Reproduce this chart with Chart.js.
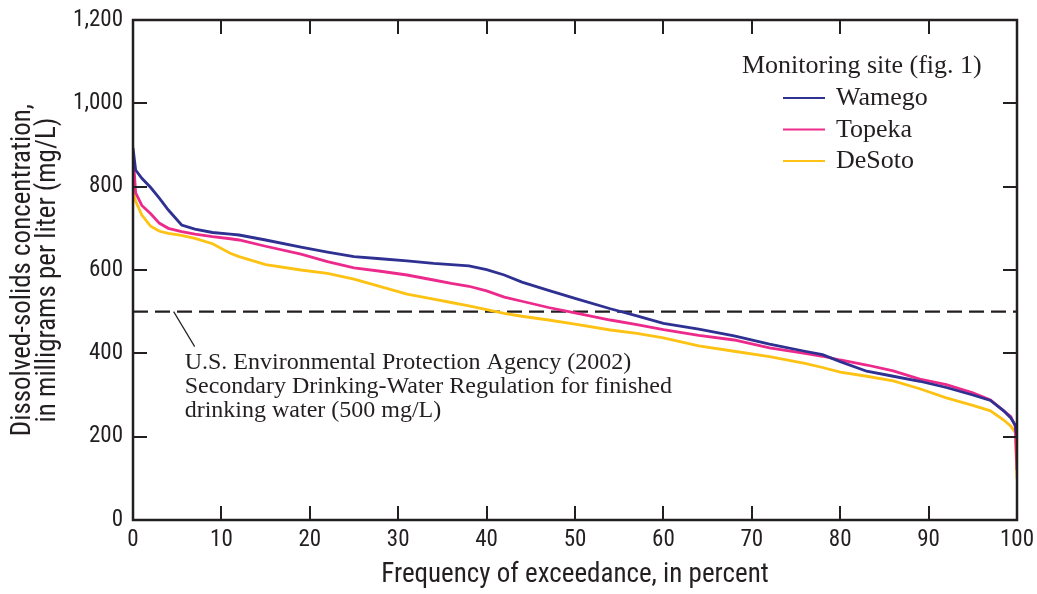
<!DOCTYPE html>
<html>
<head>
<meta charset="utf-8">
<title>Dissolved-solids duration curves</title>
<script src="https://cdn.jsdelivr.net/npm/chart.js@4.4.1/dist/chart.umd.min.js"></script>
<style>
	html, body { margin: 0; padding: 0; background: #fff; }
</style>
</head>
<body>
<canvas id="chart" width="1037" height="594"></canvas>
<script>
// Frequency of exceedance, in percent (shared by all three sites)
const exceedance = [0, 0.3, 1, 2, 3, 4, 5.5, 7, 9, 11, 12, 15, 19, 22, 25, 28, 31, 34, 36, 38, 40, 42, 44, 47, 50, 54, 57, 60, 64, 68, 72, 76, 78, 80, 83, 86, 89, 92, 95, 97, 98.5, 99.3, 99.8, 100];

// Dissolved-solids concentration, mg/L
const wamego = [893, 840, 820, 798, 772, 744, 708, 698, 690, 686, 684, 672, 655, 643, 632, 627, 622, 616, 613, 610, 601, 588, 571, 551, 532, 507, 490, 472, 458, 442, 422, 405, 397, 380, 357, 345, 333, 318, 300, 287, 262, 245, 228, 200];
const topeka = [880, 785, 755, 735, 712, 700, 692, 686, 680, 675, 672, 657, 638, 620, 605, 597, 588, 576, 568, 561, 550, 535, 525, 510, 497, 480, 469, 457, 443, 432, 413, 400, 393, 384, 372, 358, 338, 325, 305, 288, 262, 248, 225, 120];
const desoto = [790, 765, 732, 705, 693, 688, 683, 676, 663, 640, 632, 613, 600, 592, 578, 560, 542, 530, 522, 514, 505, 496, 489, 480, 470, 456, 448, 437, 418, 405, 392, 376, 366, 355, 345, 334, 315, 293, 275, 262, 240, 225, 210, 100];

// EPA secondary drinking-water regulation (500 mg/L)
const limitX = [0, 100];
const limitY = [500, 500];

const siteNames = ['Wamego', 'Topeka', 'DeSoto'];
const siteColors = ['#2e3192', '#ec2a8c', '#fdc214'];
const legendTitle = 'Monitoring site (fig. 1)';
const noteLines = [
	'U.S. Environmental Protection Agency (2002)',
	'Secondary Drinking-Water Regulation for finished',
	'drinking water (500 mg/L)',
];

const INK = '#231f20';
const AXIS_FONT = "'Liberation Sans Narrow', 'Arial Narrow', 'Roboto Condensed', sans-serif";
const SERIF_FONT = "'Liberation Serif', 'Times New Roman', serif";

function toPoints(xs, ys) {
	return xs.map((x, i) => ({ x: x, y: ys[i] }));
}

// Box, inward tick marks, legend and note
const decorPlugin = {
	id: 'decor',
	afterDraw(chart) {
		const { ctx, chartArea: area, scales } = chart;
		const xs = scales.x;
		const ys = scales.y;
		const tick = 14;

		ctx.save();
		ctx.strokeStyle = INK;
		ctx.lineWidth = 2.5;
		ctx.strokeRect(area.left, area.top, area.right - area.left, area.bottom - area.top);

		ctx.beginPath();
		xs.ticks.forEach((t) => {
			if (t.value <= xs.min || t.value >= xs.max) return;
			const px = Math.round(xs.getPixelForValue(t.value));
			ctx.moveTo(px, area.bottom);
			ctx.lineTo(px, area.bottom - tick);
			ctx.moveTo(px, area.top);
			ctx.lineTo(px, area.top + tick);
		});
		ys.ticks.forEach((t) => {
			if (t.value <= ys.min || t.value >= ys.max) return;
			const py = Math.round(ys.getPixelForValue(t.value));
			ctx.moveTo(area.left, py);
			ctx.lineTo(area.left + tick, py);
			ctx.moveTo(area.right, py);
			ctx.lineTo(area.right - tick, py);
		});
		ctx.lineWidth = 2;
		ctx.stroke();

		// legend
		ctx.fillStyle = INK;
		ctx.font = '26px ' + SERIF_FONT;
		ctx.textBaseline = 'alphabetic';
		ctx.textAlign = 'left';
		ctx.fillText(legendTitle, 742, 73);
		siteNames.forEach((name, i) => {
			const y = 105 + i * 31.5;
			ctx.strokeStyle = siteColors[i];
			ctx.lineWidth = 2;
			ctx.beginPath();
			ctx.moveTo(783, y - 7);
			ctx.lineTo(825, y - 7);
			ctx.stroke();
			ctx.fillText(name, 836, y);
		});

		// note with leader line to the 500 mg/L line
		const ax = xs.getPixelForValue(4.6);
		const ay = ys.getPixelForValue(limitY[0]);
		ctx.strokeStyle = INK;
		ctx.lineWidth = 1.2;
		ctx.beginPath();
		ctx.moveTo(ax, ay);
		ctx.lineTo(ax + 21, ay + 35);
		ctx.stroke();
		ctx.font = '24px ' + SERIF_FONT;
		noteLines.forEach((line, i) => {
			ctx.fillText(line, ax + 11, ay + 57 + i * 24);
		});
		ctx.restore();
	},
};

const lineStyle = { borderWidth: 2.8, pointRadius: 0, tension: 0, fill: false };

new Chart(document.getElementById('chart'), {
	type: 'line',
	data: {
		datasets: [
			{ label: siteNames[0], data: toPoints(exceedance, wamego), borderColor: siteColors[0], ...lineStyle },
			{ label: siteNames[1], data: toPoints(exceedance, topeka), borderColor: siteColors[1], ...lineStyle },
			{ label: siteNames[2], data: toPoints(exceedance, desoto), borderColor: siteColors[2], ...lineStyle },
			{
				label: 'EPA 500 mg/L',
				data: toPoints(limitX, limitY),
				borderColor: INK,
				borderWidth: 2.2,
				borderDash: [15, 7],
				pointRadius: 0,
			},
		],
	},
	options: {
		responsive: false,
		animation: false,
		layout: { padding: { top: 20, right: 20, left: 0, bottom: 0 } },
		plugins: {
			legend: { display: false },
			tooltip: { enabled: false },
		},
		scales: {
			x: {
				type: 'linear',
				min: 0,
				max: 100,
				grid: { display: false, drawTicks: false },
				border: { display: false },
				ticks: {
					stepSize: 10,
					padding: 6,
					color: INK,
					maxRotation: 0,
					font: { family: AXIS_FONT, size: 23 },
				},
				title: {
					display: true,
					text: 'Frequency of exceedance, in percent',
					color: INK,
					font: { family: AXIS_FONT, size: 27, lineHeight: 1.2 },
					padding: { top: 0, bottom: 3 },
				},
				afterFit(scale) {
					scale.height = 74;
					scale.paddingRight = 0;
					scale.paddingLeft = 0;
				},
			},
			y: {
				min: 0,
				max: 1200,
				grid: { display: false, drawTicks: false },
				border: { display: false },
				ticks: {
					stepSize: 200,
					padding: 10,
					color: INK,
					font: { family: AXIS_FONT, size: 23 },
					callback: (v) => v.toLocaleString('en-US'),
				},
				title: {
					display: true,
					text: ['Dissolved-solids concentration,', 'in milligrams per liter (mg/L)'],
					color: INK,
					font: { family: AXIS_FONT, size: 27, lineHeight: 0.92 },
					padding: { top: 11, bottom: 0 },
				},
				afterFit(scale) {
					scale.width = 133;
					scale.paddingTop = 0;
					scale.paddingBottom = 0;
				},
			},
		},
	},
	plugins: [decorPlugin],
});
</script>
</body>
</html>
